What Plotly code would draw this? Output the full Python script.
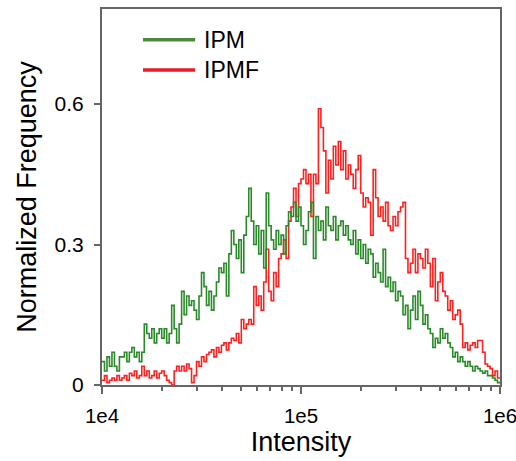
import numpy as np
import plotly.graph_objects as go

# Histogram bins: 160 log-spaced bins between 1e4 and 1e6
bin_edges = np.logspace(4, 6, 161)

ipm = [
    0.05, 0.03, 0.06, 0.04,  0.07, 0.04, 0.03, 0.06,  0.06, 0.07, 0.05, 0.07,  0.08, 0.06, 0.07, 0.05,
    0.07, 0.13, 0.11, 0.10,  0.12, 0.09, 0.11, 0.12,  0.10, 0.12, 0.09, 0.11,  0.17, 0.12, 0.09, 0.13,
    0.20, 0.15, 0.19, 0.17,  0.18, 0.16, 0.14, 0.19,  0.24, 0.21, 0.17, 0.20,  0.16, 0.19, 0.22, 0.25,
    0.24, 0.26, 0.19, 0.28,  0.33, 0.30, 0.27, 0.31,  0.24, 0.32, 0.36, 0.42,  0.35, 0.30, 0.34, 0.28,
    0.33, 0.25, 0.41, 0.34,  0.31, 0.29, 0.33, 0.30,  0.32, 0.28, 0.34, 0.37,  0.36, 0.39, 0.35, 0.38,
    0.34, 0.30, 0.33, 0.37,  0.39, 0.27, 0.36, 0.33,  0.35, 0.31, 0.38, 0.34,  0.33, 0.36, 0.31, 0.34,
    0.35, 0.32, 0.34, 0.31,  0.30, 0.33, 0.28, 0.31,  0.27, 0.30, 0.26, 0.29,  0.28, 0.23, 0.26, 0.24,
    0.22, 0.29, 0.21, 0.23,  0.20, 0.22, 0.18, 0.20,  0.19, 0.15, 0.17, 0.12,  0.16, 0.19, 0.14, 0.20,
    0.17, 0.13, 0.15, 0.12,  0.11, 0.08, 0.10, 0.09,  0.12, 0.10, 0.11, 0.09,  0.08, 0.06, 0.07, 0.05,
    0.06, 0.05, 0.04, 0.05,  0.04, 0.03, 0.04, 0.035, 0.03, 0.025, 0.03, 0.02, 0.02, 0.015, 0.01, 0.005,
]

ipmf = [
    0.01, 0.02, 0.005, 0.01,  0.015, 0.01, 0.02, 0.01,  0.015, 0.02, 0.01, 0.025,  0.02, 0.03, 0.015, 0.02,
    0.04, 0.02, 0.03, 0.015,  0.02, 0.03, 0.015, 0.025,  0.03, 0.02, 0.01, 0.005,  0.0, 0.03, 0.04, 0.03,
    0.04, 0.03, 0.045, 0.035,  0.005, 0.02, 0.05, 0.04,  0.06, 0.05, 0.065, 0.07,  0.075, 0.06, 0.08, 0.07,
    0.085, 0.09, 0.075, 0.09,  0.10, 0.095, 0.11, 0.09,  0.14, 0.12, 0.13, 0.14,  0.13, 0.21, 0.17, 0.19,
    0.16, 0.22, 0.29, 0.20,  0.18, 0.24, 0.21, 0.27,  0.28, 0.31, 0.27, 0.35,  0.38, 0.42, 0.36, 0.43,
    0.44, 0.46, 0.43, 0.45,  0.36, 0.45, 0.43, 0.59,  0.55, 0.50, 0.41, 0.48,  0.44, 0.51, 0.47, 0.52,
    0.46, 0.50, 0.44, 0.47,  0.45, 0.42, 0.46, 0.49,  0.41, 0.38, 0.40, 0.39,  0.32, 0.46, 0.40, 0.36,
    0.38, 0.35, 0.39, 0.34,  0.33, 0.36, 0.34, 0.37,  0.38, 0.39, 0.27, 0.24,  0.26, 0.29, 0.24, 0.28,
    0.27, 0.25, 0.29, 0.26,  0.21, 0.27, 0.18, 0.22,  0.24, 0.20, 0.19, 0.16,  0.18, 0.14, 0.15, 0.16,
    0.13, 0.08, 0.09, 0.075,  0.085, 0.09, 0.08, 0.095,  0.095, 0.07, 0.045, 0.04,  0.035, 0.02, 0.03, 0.015,
]

series_names = ["IPM", "IPMF"]
x_tick_vals = [1e4, 1e5, 1e6]
x_tick_text = ["1e4", "1e5", "1e6"]
y_tick_vals = [0, 0.3, 0.6]
y_tick_text = ["0", "0.3", "0.6"]

GREEN = "#2a8a2a"
RED = "#ff2020"
LEG_GREEN = "#4e8a3e"
LEG_RED = "#ea1c24"
AXIS = "#666666"
FONT = "Liberation Sans, Arial, sans-serif"

def step_xy(vals):
    xs = list(bin_edges)
    ys = list(vals) + [vals[-1]]
    return xs, ys

fig = go.Figure()
xr, yr = step_xy(ipmf)
fig.add_trace(go.Scatter(x=xr, y=yr, mode="lines", line=dict(color=RED, width=1.6, shape="hv"),
                         name=series_names[1], showlegend=False))
xg, yg = step_xy(ipm)
fig.add_trace(go.Scatter(x=xg, y=yg, mode="lines", line=dict(color=GREEN, width=1.6, shape="hv"),
                         name=series_names[0], showlegend=False))

# Legend drawn inside the plot (paper coordinates)
leg_items = [(series_names[0], LEG_GREEN, 0.918), (series_names[1], LEG_RED, 0.838)]
for name, col, yy in leg_items:
    fig.add_shape(type="line", xref="paper", yref="paper", x0=0.103, x1=0.234, y0=yy, y1=yy,
                  line=dict(color=col, width=3.5))
    fig.add_annotation(text=name, xref="paper", yref="paper", x=0.25, y=yy, xanchor="left",
                       yanchor="middle", showarrow=False, font=dict(size=23, family=FONT, color="black"))

minor_vals = [m * 10 ** e for e in (4, 5) for m in range(2, 10)]

fig.update_layout(
    width=516, height=461,
    margin=dict(l=102, r=16, t=9, b=76),
    paper_bgcolor="white", plot_bgcolor="white",
    font=dict(family=FONT, color="black", size=21),
    showlegend=False,
    xaxis=dict(type="log", range=[4, 6], tickvals=x_tick_vals, ticktext=x_tick_text,
               ticks="outside", ticklen=7, tickwidth=2, tickcolor=AXIS,
               showline=True, linecolor=AXIS, linewidth=2, mirror=True,
               showgrid=False, zeroline=False, automargin=False,
               ticklabeloverflow="allow",
               minor=dict(tickvals=minor_vals, ticks="outside", ticklen=4, tickwidth=1.5,
                          tickcolor=AXIS, showgrid=False),
               ticklabelstandoff=4,
               title=dict(text="Intensity", font=dict(size=27), standoff=4),
               tickfont=dict(size=20.5)),
    yaxis=dict(range=[0, 0.803], tickvals=y_tick_vals, ticktext=y_tick_text,
               ticks="outside", ticklen=6, tickwidth=1.5, tickcolor=AXIS,
               showline=True, linecolor=AXIS, linewidth=2, mirror=True,
               showgrid=False, zeroline=False, automargin=False,
               ticklabelstandoff=6,
               title=dict(text="Normalized Frequency", font=dict(size=27), standoff=10),
               tickfont=dict(size=21)),
)

fig.write_html("out.html")
